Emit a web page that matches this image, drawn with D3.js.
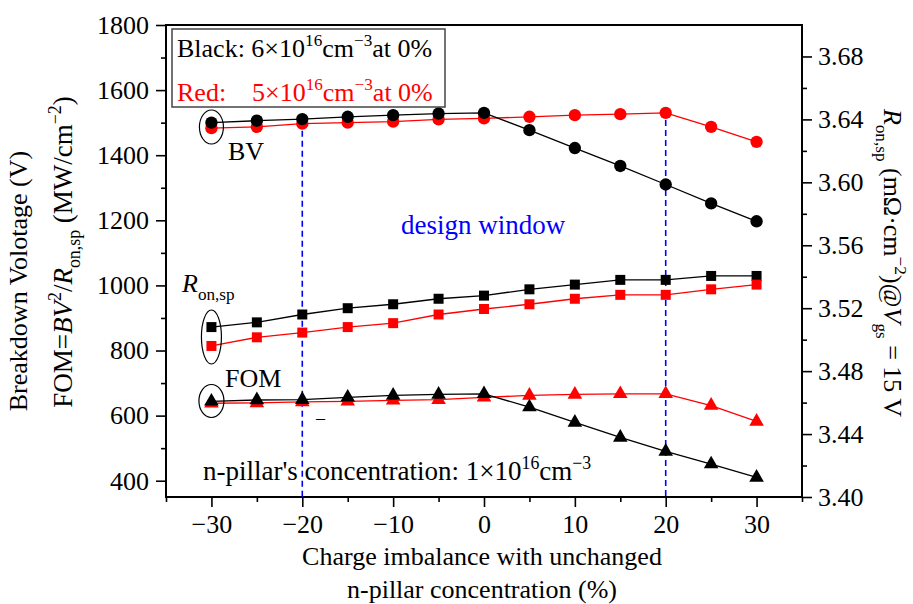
<!DOCTYPE html>
<html>
<head>
<meta charset="utf-8">
<script src="https://cdn.jsdelivr.net/npm/d3@7"></script>
<style>
  body { margin: 0; background: #fff; }
  text { font-family: "Liberation Serif", "Times New Roman", serif; fill: #000; }
</style>
</head>
<body>
<div id="chart"></div>
<script>
// charge imbalance (%) on x
const imbalance = [-30, -25, -20, -15, -10, -5, 0, 5, 10, 15, 20, 25, 30];

// breakdown voltage (V), left axis
const bvBlack = [1500, 1506, 1511, 1518, 1523, 1528, 1530, 1477, 1422, 1367, 1310, 1252, 1197];
const bvRed   = [1483, 1487, 1497, 1500, 1503, 1510, 1513, 1518, 1523, 1526, 1530, 1487, 1441];

// Ron,sp (mOhm cm^2), right axis
const ronBlack = [3.508, 3.511, 3.516, 3.520, 3.5225, 3.526, 3.528, 3.532, 3.535, 3.538, 3.538, 3.5405, 3.5405];
const ronRed   = [3.496, 3.5015, 3.5045, 3.508, 3.5105, 3.516, 3.5195, 3.5225, 3.526, 3.5285, 3.5285, 3.532, 3.535];

// FOM (MW/cm^2), left axis
const fomBlack = [644, 648, 649, 656, 662, 665, 667, 626, 579, 533, 490, 451, 410];
const fomRed   = [638, 639, 642, 644, 647, 649, 656, 662, 665, 667, 667, 631, 582];

const xTicks = [-30, -20, -10, 0, 10, 20, 30];
const xMinor = [-35, -25, -15, -5, 5, 15, 25, 35];
const leftTicks = [400, 600, 800, 1000, 1200, 1400, 1600, 1800];
const leftMinor = [500, 700, 900, 1100, 1300, 1500, 1700];
const rightTicks = [3.40, 3.44, 3.48, 3.52, 3.56, 3.60, 3.64, 3.68];
const rightMinor = [3.42, 3.46, 3.50, 3.54, 3.58, 3.62, 3.66];
const windowEdges = [-20, 20];

const W = 913, H = 604;
const m = {left: 166, top: 25, right: 111, bottom: 107};
const iw = W - m.left - m.right, ih = H - m.top - m.bottom;

const svg = d3.select("#chart").append("svg")
    .attr("width", W).attr("height", H);
const g = svg.append("g").attr("transform", `translate(${m.left},${m.top})`);

const x = d3.scaleLinear().domain([-35, 35]).range([0, iw]);
const yL = d3.scaleLinear().domain([350, 1800]).range([ih, 0]);
const yR = d3.scaleLinear().domain([3.40, 3.70]).range([ih, 0]);

// text with sub/superscripts, parts = [{t, k:'sup'|'sub', i:true}]
function rich(sel, parts, fs) {
  const t = sel.append("text").style("font-size", fs + "px");
  let shift = 0;
  parts.forEach(p => {
    let target = 0, size = fs;
    if (p.k === "sup") { target = -0.42 * fs; size = fs * 0.66; }
    if (p.k === "sub") { target = 0.3 * fs; size = fs * 0.66; }
    const ts = t.append("tspan").text(p.t)
        .attr("dy", target - shift)
        .style("font-size", size + "px");
    if (p.i) ts.style("font-style", "italic");
    if (p.x != null) ts.attr("x", p.x);
    shift = target;
  });
  return t;
}

// axes
function styleAxis(a) {
  a.select(".domain").remove();
  a.selectAll("line").attr("stroke", "#000").attr("stroke-width", 1.6);
  a.selectAll("text").style("font-size", "26px").attr("fill", "#000")
      .style("font-family", '"Liberation Serif", "Times New Roman", serif');
}
const fmtR = d3.format(".2f");
const fmtL = d3.format("d");

styleAxis(g.append("g").attr("transform", `translate(0,${ih})`)
    .call(d3.axisBottom(x).tickValues(xTicks).tickSize(10).tickPadding(8)));
styleAxis(g.append("g").attr("transform", `translate(0,${ih})`)
    .call(d3.axisBottom(x).tickValues(xMinor).tickSize(5).tickFormat("")));
styleAxis(g.append("g")
    .call(d3.axisLeft(yL).tickValues(leftTicks).tickSize(10).tickPadding(7).tickFormat(fmtL)));
styleAxis(g.append("g")
    .call(d3.axisLeft(yL).tickValues(leftMinor).tickSize(5).tickFormat("")));
styleAxis(g.append("g").attr("transform", `translate(${iw},0)`)
    .call(d3.axisRight(yR).tickValues(rightTicks).tickSize(10).tickPadding(6).tickFormat(fmtR)));
styleAxis(g.append("g").attr("transform", `translate(${iw},0)`)
    .call(d3.axisRight(yR).tickValues(rightMinor).tickSize(5).tickFormat("")));

g.append("rect").attr("width", iw).attr("height", ih)
    .attr("fill", "none").attr("stroke", "#000").attr("stroke-width", 2);

// design window lines
g.selectAll(".win").data(windowEdges).join("line")
    .attr("x1", d => x(d)).attr("x2", d => x(d))
    .attr("y1", d => yL(bvRed[imbalance.indexOf(d)]) + 7)
    .attr("y2", ih)
    .attr("stroke", "#0000ff").attr("stroke-width", 1.6)
    .attr("stroke-dasharray", "6,4");

// series
function series(vals, scale, color, shape) {
  const pts = imbalance.map((d, i) => [x(d), scale(vals[i])]);
  g.append("path").datum(pts)
      .attr("d", d3.line())
      .attr("fill", "none").attr("stroke", color).attr("stroke-width", 1.3);
  g.append("g").selectAll("path").data(pts).join("path")
      .attr("transform", d => `translate(${d[0]},${d[1]})`)
      .attr("d", d3.symbol(shape.type, shape.size))
      .attr("fill", color);
}
const circ = {type: d3.symbolCircle, size: 120};
const sq = {type: d3.symbolSquare, size: 100};
const tri = {type: d3.symbolTriangle, size: 92};

series(bvRed, yL, "#ff0000", circ);
series(bvBlack, yL, "#000", circ);
series(ronBlack, yR, "#000", sq);
series(ronRed, yR, "#ff0000", sq);
series(fomRed, yL, "#ff0000", tri);
series(fomBlack, yL, "#000", tri);

// ellipses round the first points
const ell = [
  {cx: x(-30), cy: 102, rx: 12, ry: 17},
  {cx: x(-30), cy: 312, rx: 10, ry: 27},
  {cx: x(-30), cy: 376, rx: 12.5, ry: 16.5}
];
g.selectAll(".ell").data(ell).join("ellipse")
    .attr("cx", d => d.cx).attr("cy", d => d.cy)
    .attr("rx", d => d.rx).attr("ry", d => d.ry)
    .attr("fill", "none").attr("stroke", "#000").attr("stroke-width", 1.2);

// annotations (page coords)
const ann = svg.append("g");
ann.append("text").attr("x", 228).attr("y", 160).style("font-size", "26px").text("BV");
ann.append("text").attr("x", 225).attr("y", 387).style("font-size", "26px").text("FOM");
rich(ann.append("g").attr("transform", "translate(182,292)"),
    [{t: "R", i: true}, {t: "on,sp", k: "sub"}], 26);
ann.append("text").attr("x", 401).attr("y", 234).style("font-size", "27px")
    .style("fill", "#0000ff").text("design window");
ann.append("text").attr("x", 316).attr("y", 424).style("font-size", "18px").text("–");
rich(ann.append("g").attr("transform", "translate(203,480)"),
    [{t: "n-pillar's concentration: 1×10"}, {t: "16", k: "sup"}, {t: "cm"}, {t: "−3", k: "sup"}], 27);

// legend box
ann.append("rect").attr("x", 172).attr("y", 29).attr("width", 273).attr("height", 78)
    .attr("fill", "#fff").attr("stroke", "#444").attr("stroke-width", 1.5);
rich(ann.append("g").attr("transform", "translate(177,57)"),
    [{t: "Black: 6×10"}, {t: "16", k: "sup"}, {t: "cm"}, {t: "−3", k: "sup"}, {t: "at 0%"}], 26);
const red = rich(ann.append("g").attr("transform", "translate(177,101)"),
    [{t: "Red:"}, {t: "5×10", x: 75}, {t: "16", k: "sup"}, {t: "cm"}, {t: "−3", k: "sup"}, {t: "at 0%"}], 26);
red.style("fill", "#ff0000").selectAll("tspan").style("fill", "#ff0000");

// axis titles
rich(svg.append("g").attr("transform", "translate(27,281) rotate(-90)"),
    [{t: "Breakdown Volotage (V)"}], 26).attr("text-anchor", "middle");
rich(svg.append("g").attr("transform", "translate(72,252) rotate(-90)"),
    [{t: "FOM="}, {t: "BV", i: true}, {t: "2", k: "sup"}, {t: "/"}, {t: "R", i: true},
     {t: "on,sp", k: "sub"}, {t: " (MW/cm"}, {t: "−2", k: "sup"}, {t: ")"}], 27)
    .attr("text-anchor", "middle");
rich(svg.append("g").attr("transform", "translate(884,263) rotate(90)"),
    [{t: "R", i: true}, {t: "on,sp", k: "sub"}, {t: " (mΩ·cm"}, {t: "−2", k: "sup"},
     {t: ")@"}, {t: "V", i: true}, {t: "gs", k: "sub"}, {t: " = 15 V"}], 26)
    .attr("text-anchor", "middle");

svg.append("text").attr("x", 482).attr("y", 565).attr("text-anchor", "middle")
    .style("font-size", "26px").text("Charge imbalance with unchanged");
svg.append("text").attr("x", 482).attr("y", 598).attr("text-anchor", "middle")
    .style("font-size", "26px").text("n-pillar concentration (%)");
</script>
</body>
</html>
